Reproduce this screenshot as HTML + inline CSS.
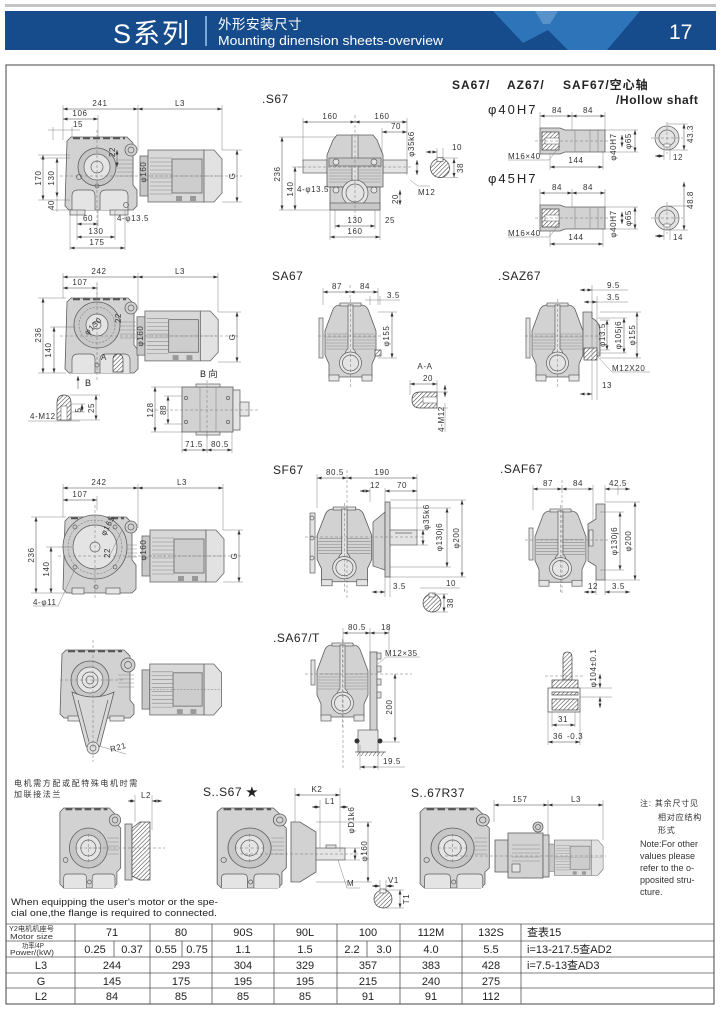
<!DOCTYPE html>
<html><head><meta charset="utf-8">
<style>
html,body{margin:0;padding:0;background:#fff;}
svg{display:block}
text{font-family:"Liberation Sans","Noto Sans CJK SC",sans-serif;}
.t{font-size:8px;fill:#333;letter-spacing:.6px}
.tc{text-anchor:middle}
.lb{font-size:12px;fill:#222;letter-spacing:.5px}
.tb{font-size:11px;fill:#222;text-anchor:middle}
.dm{stroke:#444;stroke-width:.5;fill:none;marker-start:url(#a);marker-end:url(#a)}
.ex{stroke:#666;stroke-width:.4;fill:none}
.cl{stroke:#777;stroke-width:.5;stroke-dasharray:3 2;fill:none}
.b{fill:#d2d2d2;stroke:#5e5e5e;stroke-width:.8}
.l{fill:#e4e4e4;stroke:#5e5e5e;stroke-width:.7}
.k{fill:none;stroke:#5e5e5e;stroke-width:.7}
.r{stroke:#8a8a8a;stroke-width:.6;fill:none}
.h{fill:url(#h);stroke:#444;stroke-width:.7}
.tl{stroke:#555;stroke-width:.8}
</style></head>
<body>
<svg width="721" height="1011" viewBox="0 0 721 1011" xmlns="http://www.w3.org/2000/svg">
<defs>
<marker id="a" viewBox="0 0 6 4" refX="6" refY="2" markerWidth="5" markerHeight="3" orient="auto-start-reverse" markerUnits="userSpaceOnUse"><path d="M0 0L6 2L0 4Z" fill="#333"/></marker>
<pattern id="h" width="3" height="3" patternUnits="userSpaceOnUse" patternTransform="rotate(45)"><rect width="3" height="3" fill="#fff"/><line x1="0" y1="0" x2="0" y2="3" stroke="#444" stroke-width="1.1"/></pattern>
<g id="mot">
<rect x="0" y="6" width="8" height="40" fill="#c8c8c8" stroke="#666" stroke-width=".8"/>
<rect x="8" y="0" width="56" height="52" fill="#d8d8d8" stroke="#666" stroke-width=".8"/>
<path d="M10 8H32M10 12H32M10 16H32M10 20H32M10 24H32M10 28H32M10 32H32M10 36H32M10 40H32M10 44H32" stroke="#888" stroke-width=".6"/>
<rect x="32" y="9" width="30" height="34" fill="#cdcdcd" stroke="#666" stroke-width=".8"/>
<path d="M64 0H74L82 9V43L74 52H64Z" fill="#e2e2e2" stroke="#666" stroke-width=".8"/>
<rect x="36" y="46" width="6" height="5" fill="#999"/><rect x="50" y="46" width="6" height="5" fill="#999"/>
<line x1="8" y1="26" x2="82" y2="26" stroke="#777" stroke-width=".5" stroke-dasharray="2 1.5"/>
</g>
<g id="gf">
<path class="b" d="M9 9 Q11 2 17 2 H38 Q44 2 46 9 L53 28 V52 L49 61 V74 H6 V61 L2 52 V28 Z"/>
<rect class="l" x="17" y="0" width="21" height="3"/>
<path class="r" d="M4 31H51M3 34H52M3 37H52M3 40H52M3 43H52M3 46H52"/>
<path class="l" d="M25 2 V46 Q22 48 22 52 H33 Q33 48 30 46 V2Z"/>
<circle class="l" cx="27.5" cy="60" r="11"/>
<circle class="k" cx="27.5" cy="60" r="8"/>
<rect class="l" x="6" y="72" width="10" height="6"/>
<rect class="l" x="39" y="72" width="10" height="6"/>
<path class="cl" d="M27.5 -4V84"/>
</g>
<g id="gs">
<path class="b" d="M2 4 L6 0 H54 L60 6 V14 L66 20 V60 L62 64 V76 L58 80 H6 L2 76 Z"/>
<path d="M8 1.2H52" stroke="#555" stroke-width="2.2" stroke-dasharray="7 3"/>
<circle class="b" cx="60" cy="12" r="6"/><circle class="k" cx="60" cy="12" r="3"/>
<circle fill="#c6c6c6" stroke="#5e5e5e" stroke-width=".8" cx="32" cy="40" r="20"/>
<circle class="l" cx="32" cy="40" r="13"/>
<circle class="l" cx="32" cy="40" r="8"/>
<path class="cl" d="M32 26V54M18 40H46"/>
<path class="r" d="M52 30H64M52 34H64M52 38H64M52 42H64M52 46H64"/>
<path class="l" d="M6 80V70Q6 66 10 66H26Q30 66 30 70V80M36 80V70Q36 66 40 66H56Q60 66 60 70V80"/>
<circle class="k" cx="33" cy="74" r="2"/>
<circle class="k" cx="8" cy="52" r="2.5"/>
</g>
</defs>

<!-- HEADER -->
<rect x="5" y="4" width="711" height="3" fill="#c4c4c4"/>
<rect x="5" y="11" width="711" height="39" fill="#164c8c"/>
<polygon points="493,11 640,11 607,50 568,50 548,30 523,43" fill="#2d74b8"/>
<polygon points="535,11 558,11 550,24 543,24" fill="#6a9fd2" opacity=".7"/>
<text x="113" y="43" fill="#fff" font-size="27" letter-spacing="2">S系列</text>
<line x1="206" y1="16" x2="206" y2="46" stroke="#7aa6d8" stroke-width="2"/>
<text x="218" y="29" fill="#fff" font-size="13.5" letter-spacing=".5">外形安装尺寸</text>
<text x="218" y="45" fill="#fff" font-size="13" textLength="225" lengthAdjust="spacingAndGlyphs">Mounting dinension sheets-overview</text>
<text x="669" y="39" fill="#fff" font-size="21">17</text>

<!-- FRAME -->
<rect x="6" y="65" width="708" height="939" fill="none" stroke="#444" stroke-width="1"/>

<!-- ===== A: top-left S67 foot ===== -->
<path class="ex" d="M63 105V140M138 105V150M222 105V150M98 115V140M53 127V140M72 127V140"/>
<line class="dm" x1="63" y1="109" x2="138" y2="109"/><text class="t tc" x="100" y="106">241</text>
<line class="dm" x1="138" y1="109" x2="222" y2="109"/><text class="t tc" x="180" y="106">L3</text>
<line class="dm" x1="63" y1="119" x2="98" y2="119"/><text class="t tc" x="80" y="116">106</text>
<line class="ex" x1="48" y1="130" x2="80" y2="130"/><text class="t tc" x="78" y="127">15</text>
<path class="b" d="M67 141 L71 137 H127 L133 143 V185 L137 190 V206 L133 210 H69 L65 206 Z"/>
<path d="M73 138.3H125" stroke="#555" stroke-width="2" stroke-dasharray="7 3"/>
<circle class="b" cx="131" cy="150" r="6"/><circle class="k" cx="131" cy="150" r="3"/>
<path class="r" d="M117 160H134M117 164H134M117 168H134M117 172H134M117 176H134"/>
<circle fill="#c6c6c6" stroke="#5e5e5e" stroke-width=".8" cx="97" cy="167" r="19"/>
<circle class="l" cx="97" cy="167" r="13"/><circle class="l" cx="97" cy="167" r="6"/>
<path class="l" d="M72 210V196Q72 190 78 190H90Q95 190 95 196V210M100 210V196Q100 190 106 190H122Q128 190 128 196V210"/>
<circle class="k" cx="79" cy="177" r="2.5"/><circle class="k" cx="97" cy="186" r="2"/><circle class="k" cx="126" cy="205" r="2.5"/>
<rect class="l" x="70" y="210" width="15" height="5"/><rect class="l" x="110" y="210" width="18" height="5"/>
<use href="#mot" transform="translate(140,150)"/>
<path class="cl" d="M97 130V228M60 176H242"/>
<path class="ex" d="M38 155H70M38 200H70M52 210H70M40 158H70M222 150H242M222 202H242"/>
<line class="dm" x1="43" y1="155" x2="43" y2="200"/><text class="t tc" transform="translate(41,178) rotate(-90)">170</text>
<line class="dm" x1="57" y1="158" x2="57" y2="197"/><text class="t tc" transform="translate(54,178) rotate(-90)">130</text>
<line class="ex" x1="57" y1="197" x2="57" y2="212"/><text class="t tc" transform="translate(54,205) rotate(-90)">40</text>
<line class="dm" x1="237" y1="150" x2="237" y2="202"/><text class="t tc" transform="translate(235,176) rotate(-90)">G</text>
<text class="t tc" transform="translate(146,172) rotate(-90)">φ160</text>
<line class="dm" x1="117" y1="150" x2="117" y2="167"/><text class="t tc" transform="translate(115,152) rotate(-90)">22</text>
<path class="ex" d="M70 210V250M125 210V250M77 210V240M115 210V240M98 210V226"/>
<line class="dm" x1="77" y1="224" x2="98" y2="224"/><text class="t tc" x="88" y="221">60</text>
<text class="t" x="117" y="221">4-φ13.5</text>
<line class="dm" x1="77" y1="237" x2="115" y2="237"/><text class="t tc" x="96" y="234">130</text>
<line class="dm" x1="70" y1="248" x2="125" y2="248"/><text class="t tc" x="97" y="245">175</text>

<!-- ===== B: S67 front ===== -->
<text class="lb" x="262" y="103">.S67</text>
<path class="ex" d="M303 118V162M407 118V175M382 128V162M279 137H340M279 210H335M292 167H305"/>
<line class="dm" x1="303" y1="122" x2="355" y2="122"/><text class="t tc" x="330" y="119">160</text>
<line class="dm" x1="355" y1="122" x2="407" y2="122"/><text class="t tc" x="382" y="119">160</text>
<line class="dm" x1="382" y1="132" x2="407" y2="132"/><text class="t tc" x="396" y="129">70</text>
<rect class="l" x="303" y="160" width="24" height="13"/><rect class="l" x="383" y="160" width="24" height="13"/>
<path class="b" d="M333 140 L337 135 H373 L377 140 L383 155 V187 H327 V155 Z"/>
<path class="r" d="M329 170H381M329 173H381M329 176H381M329 179H381M329 182H381"/>
<rect class="l" x="352" y="135" width="6" height="48"/>
<rect fill="#c8c8c8" stroke="#5e5e5e" stroke-width=".7" x="329" y="158" width="52" height="8"/>
<circle class="l" cx="336" cy="162" r="3"/><circle class="l" cx="374" cy="162" r="3"/>
<rect class="b" x="330" y="187" width="50" height="23"/>
<circle class="l" cx="355" cy="193" r="13"/><circle class="k" cx="355" cy="193" r="9"/>
<circle class="l" cx="336" cy="190" r="3"/><circle class="l" cx="374" cy="190" r="3"/>
<rect fill="#c8c8c8" stroke="#5e5e5e" stroke-width=".7" x="330" y="203" width="50" height="7"/>
<path class="cl" d="M355 115V220M298 167H412"/>
<line class="dm" x1="282" y1="137" x2="282" y2="210"/><text class="t tc" transform="translate(280,174) rotate(-90)">236</text>
<line class="dm" x1="295" y1="167" x2="295" y2="210"/><text class="t tc" transform="translate(293,189) rotate(-90)">140</text>
<text class="t" x="297" y="192" font-size="7.5">4-φ13.5</text>
<line class="dm" x1="417" y1="160" x2="417" y2="175"/><text class="t tc" transform="translate(414,144) rotate(-90)">φ35k6</text>
<path class="ex" d="M410 180L418 186H430"/><text class="t" x="418" y="195">M12</text>
<line class="dm" x1="400" y1="190" x2="400" y2="205"/><text class="t tc" transform="translate(398,199) rotate(-90)">20</text>
<path class="ex" d="M335 210V229M375 210V229M330 210V240M380 210V240"/>
<line class="dm" x1="335" y1="226" x2="375" y2="226"/><text class="t tc" x="355" y="223">130</text>
<text class="t tc" x="390" y="223">25</text>
<line class="dm" x1="330" y1="237" x2="380" y2="237"/><text class="t tc" x="355" y="234">160</text>
<circle class="h" cx="440" cy="168" r="9.5"/><rect fill="#fff" stroke="#444" stroke-width=".6" x="437" y="157.5" width="6" height="4"/>
<path class="ex" d="M437 148V158M443 148V158M440 158H458M440 177.5H458"/>
<line class="dm" x1="426" y1="152" x2="437" y2="152"/><text class="t" x="452" y="150">10</text>
<line class="dm" x1="454" y1="158.5" x2="454" y2="177.5"/><text class="t tc" transform="translate(463,168) rotate(-90)">38</text>

<!-- ===== C: hollow shaft ===== -->
<text x="452" y="89" font-size="12" font-weight="bold" fill="#222" letter-spacing="1">SA67/</text>
<text x="507" y="89" font-size="12" font-weight="bold" fill="#222" letter-spacing="1">AZ67/</text>
<text x="563" y="89" font-size="12" font-weight="bold" fill="#222" letter-spacing="1">SAF67/空心轴</text>
<text x="616" y="104" font-size="12" font-weight="bold" fill="#222" letter-spacing=".6">/Hollow shaft</text>
<text x="488" y="114" font-size="13" fill="#222" letter-spacing="2">φ40H7</text>
<text x="488" y="183" font-size="13" fill="#222" letter-spacing="2">φ45H7</text>
<g id="hs">
<path class="ex" d="M540 112V128M572 112V130M605 112V130M605 130H638M605 152H638M550 152V170M603 152V170"/>
<line class="dm" x1="540" y1="116" x2="572" y2="116"/><text class="t tc" x="557" y="113">84</text>
<line class="dm" x1="572" y1="116" x2="605" y2="116"/><text class="t tc" x="588" y="113">84</text>
<path class="b" d="M540 128H560L565 130H605V152H565L560 154H540Z"/>
<rect class="h" x="542" y="132" width="17" height="18"/>
<rect fill="#fff" stroke="#555" stroke-width=".5" x="545" y="138" width="14" height="6"/>
<path class="r" d="M575 130V152M590 130V152M598 130V152"/>
<path class="cl" d="M535 141H612"/>
<line class="dm" x1="622" y1="135" x2="622" y2="147"/>
<line class="dm" x1="635" y1="130" x2="635" y2="152"/>
<text class="t tc" transform="translate(616,147) rotate(-90)">φ40H7</text>
<text class="t tc" transform="translate(631,141) rotate(-90)">φ65</text>
<path class="ex" d="M560 146L549 160H508"/>
<text class="t" x="508" y="159">M16×40</text>
<line class="dm" x1="550" y1="167" x2="603" y2="167"/><text class="t tc" x="576" y="163">144</text>
</g>
<use href="#hs" transform="translate(0,77)"/>
<circle class="l" cx="667" cy="138" r="12"/><circle class="k" cx="667" cy="138" r="8"/>
<path class="cl" d="M651 138H683M667 122V154"/>
<rect fill="#fff" stroke="#555" stroke-width=".5" x="664" y="144" width="6" height="3"/>
<path class="ex" d="M667 124H688M667 150H688M664 148V160M670 148V160"/>
<line class="dm" x1="684" y1="124" x2="684" y2="150"/><text class="t tc" transform="translate(693,134) rotate(-90)">43.3</text>
<line class="dm" x1="655" y1="156" x2="664" y2="156"/><text class="t" x="673" y="160">12</text>
<circle class="l" cx="667" cy="218" r="12"/><circle class="k" cx="667" cy="218" r="8"/>
<path class="cl" d="M651 218H683M667 202V234"/>
<rect fill="#fff" stroke="#555" stroke-width=".5" x="664" y="224" width="6" height="3"/>
<path class="ex" d="M667 206H688M667 230H688M664 228V240M670 228V240"/>
<line class="dm" x1="684" y1="182" x2="684" y2="230"/><text class="t tc" transform="translate(693,200) rotate(-90)">48.8</text>
<line class="dm" x1="655" y1="236" x2="664" y2="236"/><text class="t" x="673" y="240">14</text>

<!-- ===== D: row2 left SA67 side ===== -->
<path class="ex" d="M63 273V298M138 273V310M218 273V312M97 284V300"/>
<line class="dm" x1="63" y1="277" x2="138" y2="277"/><text class="t tc" x="99" y="274">242</text>
<line class="dm" x1="138" y1="277" x2="218" y2="277"/><text class="t tc" x="180" y="274">L3</text>
<line class="dm" x1="63" y1="288" x2="97" y2="288"/><text class="t tc" x="80" y="285">107</text>
<path class="b" d="M67 302 L71 298 H128 L134 304 V345 L138 350 V369 L134 373 H69 L65 369 Z"/>
<path d="M73 299.3H126" stroke="#555" stroke-width="2" stroke-dasharray="7 3"/>
<circle class="b" cx="131" cy="308" r="6"/><circle class="k" cx="131" cy="308" r="3"/>
<path class="r" d="M120 322H136M120 326H136M120 330H136M120 334H136M120 338H136"/>
<circle fill="#c8c8c8" stroke="#5e5e5e" stroke-width=".8" cx="97" cy="325" r="23"/>
<circle cx="97" cy="325" r="18" fill="none" stroke="#666" stroke-width=".5" stroke-dasharray="2 1.5"/>
<circle class="l" cx="97" cy="325" r="11"/><circle class="k" cx="97" cy="325" r="4"/>
<path class="l" d="M72 373V360Q72 354 78 354H90Q95 354 95 360V373M100 373V360Q100 354 106 354H124Q130 354 130 360V373"/>
<path class="h" d="M113 372V360Q113 354 118 354Q123 354 123 360V372Z"/>
<circle class="k" cx="97" cy="365" r="2"/>
<text class="t" x="101" y="360" font-size="6">A</text>
<text class="t tc" transform="translate(95,328) rotate(-45)">φ130</text>
<use href="#mot" transform="translate(137,311) scale(.99,.96)"/>
<path class="cl" d="M97 282V380M60 336H240"/>
<path class="ex" d="M38 298H66M38 373H66M50 327H75M218 312H241M218 362H241"/>
<line class="dm" x1="43" y1="298" x2="43" y2="373"/><text class="t tc" transform="translate(41,335) rotate(-90)">236</text>
<line class="dm" x1="54" y1="327" x2="54" y2="373"/><text class="t tc" transform="translate(51,350) rotate(-90)">140</text>
<line class="dm" x1="237" y1="312" x2="237" y2="362"/><text class="t tc" transform="translate(235,337) rotate(-90)">G</text>
<text class="t tc" transform="translate(121,318) rotate(-90)">22</text>
<text class="t tc" transform="translate(143,336) rotate(-90)">φ160</text>
<line class="dm" x1="78" y1="389" x2="78" y2="376" style="marker-start:none"/>
<text x="85" y="386" font-size="9" fill="#222">B</text>
<path class="h" d="M57 420V403Q57 395 64 395Q71 395 71 403V420Z"/>
<rect fill="#fff" stroke="#555" stroke-width=".5" x="61" y="406" width="6" height="14"/>
<path class="ex" d="M28 421H80M70 395H100M70 420H100M70 404H85M70 412H85"/>
<text class="t" x="30" y="419" font-size="7.5">4-M12</text>
<line class="dm" x1="82" y1="404" x2="82" y2="412"/><text class="t tc" transform="translate(81,410) rotate(-90)">5</text>
<line class="dm" x1="96" y1="395" x2="96" y2="420"/><text class="t tc" transform="translate(94,408) rotate(-90)">25</text>
<text x="200" y="377" font-size="9" fill="#222">B 向</text>
<rect class="b" x="182" y="387" width="51" height="45"/>
<rect class="l" x="196" y="384" width="24" height="3"/><rect class="l" x="196" y="432" width="24" height="3"/>
<path class="r" d="M200 387V432M216 387V432"/>
<path class="l" d="M233 390H240V430H233Z"/><rect class="l" x="240" y="402" width="9" height="14"/>
<circle class="k" cx="186" cy="398" r="1.6"/><circle class="k" cx="186" cy="422" r="1.6"/><circle class="k" cx="228" cy="398" r="1.6"/><circle class="k" cx="228" cy="422" r="1.6"/>
<path class="cl" d="M150 410H258M207 380V440"/>
<path class="ex" d="M151 387H182M151 432H182M164 396H182M164 424H182M182 432V453M207 432V453M232 432V453"/>
<line class="dm" x1="155" y1="387" x2="155" y2="432"/><text class="t tc" transform="translate(153,410) rotate(-90)">128</text>
<line class="dm" x1="168" y1="396" x2="168" y2="424"/><text class="t tc" transform="translate(166,410) rotate(-90)">88</text>
<line class="dm" x1="182" y1="450" x2="207" y2="450"/><text class="t tc" x="194" y="447">71.5</text>
<line class="dm" x1="207" y1="450" x2="232" y2="450"/><text class="t tc" x="220" y="447">80.5</text>

<!-- ===== E: SA67 / SAZ67 front ===== -->
<text class="lb" x="272" y="280">SA67</text>
<path class="ex" d="M323 288V305M378 288V305M378 312H397M378 358H397M370 296V305M380 296V305"/>
<line class="dm" x1="323" y1="292" x2="350" y2="292"/><text class="t tc" x="337" y="289">87</text>
<line class="dm" x1="350" y1="292" x2="378" y2="292"/><text class="t tc" x="365" y="289">84</text>
<line class="ex" x1="365" y1="300" x2="400" y2="300"/><text class="t" x="387" y="298">3.5</text>
<use href="#gf" transform="translate(323,303)"/>
<rect class="l" x="319" y="318" width="4" height="40"/>
<rect class="h" x="375" y="350" width="6" height="6"/>
<path class="cl" d="M318 336H382M350 285V300"/>
<line class="dm" x1="392" y1="312" x2="392" y2="358"/><text class="t tc" transform="translate(389,336) rotate(-90)">φ155</text>
<text class="t tc" x="425" y="369" font-size="7">A-A</text>
<path class="ex" d="M410 380V395M437 380V395"/>
<line class="dm" x1="410" y1="384" x2="437" y2="384"/><text class="t tc" x="428" y="381">20</text>
<path class="h" d="M412 400Q412 392 420 392H437V408H420Q412 408 412 400Z"/>
<rect fill="#fff" stroke="#555" stroke-width=".5" x="423" y="397" width="14" height="6"/>
<path class="ex" d="M437 392H448M437 408H448"/>
<line class="dm" x1="445" y1="385" x2="445" y2="397"/><line class="ex" x1="445" y1="403" x2="445" y2="432"/>
<text class="t tc" transform="translate(444,419) rotate(-90)">4-M12</text>

<text class="lb" x="498" y="280">.SAZ67</text>
<use href="#gf" transform="translate(530,303)"/>
<rect class="l" x="526" y="318" width="4" height="40"/>
<path class="b" d="M583 312H592V318Q600 322 600 332V356H583Z"/>
<rect class="h" x="584" y="348" width="13" height="12"/>
<path class="cl" d="M525 336H605"/>
<path class="ex" d="M592 285V400M597 296V400M600 312H641M600 358H641M600 320H610M600 350H610M598 318H627M598 353H627"/>
<line class="dm" x1="580" y1="290" x2="592" y2="290"/><line class="ex" x1="592" y1="290" x2="628" y2="290"/><text class="t" x="607" y="288">9.5</text>
<line class="dm" x1="584" y1="302" x2="597" y2="302"/><line class="ex" x1="597" y1="302" x2="628" y2="302"/><text class="t" x="607" y="300">3.5</text>
<line class="dm" x1="607" y1="320" x2="607" y2="350"/><text class="t tc" transform="translate(605,335) rotate(-90)">φ13.5</text>
<line class="dm" x1="624" y1="318" x2="624" y2="353"/><text class="t tc" transform="translate(621,335) rotate(-90)">φ105j6</text>
<line class="dm" x1="637" y1="312" x2="637" y2="358"/><text class="t tc" transform="translate(635,335) rotate(-90)">φ155</text>
<path class="ex" d="M597 356L612 372H650"/>
<text class="t" x="612" y="371" font-size="7.5">M12X20</text>
<line class="dm" x1="580" y1="394" x2="592" y2="394"/><text class="t" x="602" y="388" font-size="7">13</text>

<!-- ===== F: row3 left SF side ===== -->
<path class="ex" d="M63 484V517M138 484V528M223 484V530M97 496V510"/>
<line class="dm" x1="63" y1="488" x2="138" y2="488"/><text class="t tc" x="99" y="485">242</text>
<line class="dm" x1="138" y1="488" x2="223" y2="488"/><text class="t tc" x="182" y="485">L3</text>
<line class="dm" x1="63" y1="500" x2="97" y2="500"/><text class="t tc" x="80" y="497">107</text>
<path class="b" d="M65 521 L69 517 H126 L132 523 V560 L136 565 V589 L132 593 H67 L63 589 Z"/>
<path d="M71 518.3H124" stroke="#555" stroke-width="2" stroke-dasharray="7 3"/>
<circle class="b" cx="131" cy="527" r="6"/><circle class="k" cx="131" cy="527" r="3"/>
<path class="r" d="M122 545H137M122 549H137M122 553H137M122 557H137"/>
<circle fill="#cdcdcd" stroke="#5e5e5e" stroke-width=".8" cx="95" cy="547" r="32"/>
<circle cx="95" cy="547" r="27" fill="none" stroke="#666" stroke-width=".5" stroke-dasharray="2 1.5"/>
<circle class="l" cx="95" cy="547" r="22"/>
<circle class="l" cx="95" cy="547" r="5"/>
<circle class="k" cx="75" cy="527" r="2"/><circle class="k" cx="115" cy="527" r="2"/><circle class="k" cx="75" cy="567" r="2"/><circle class="k" cx="115" cy="567" r="2"/>
<rect class="l" x="72" y="588" width="12" height="6"/><rect class="l" x="106" y="588" width="14" height="6"/>
<circle class="k" cx="96" cy="587" r="2"/>
<use href="#mot" transform="translate(142,530)"/>
<path class="cl" d="M95 505V598M58 556H242"/>
<path class="ex" d="M31 517H66M31 593H66M46 547H72M223 530H243M223 582H243"/>
<line class="dm" x1="36" y1="517" x2="36" y2="593"/><text class="t tc" transform="translate(34,555) rotate(-90)">236</text>
<line class="dm" x1="51" y1="547" x2="51" y2="593"/><text class="t tc" transform="translate(49,569) rotate(-90)">140</text>
<line class="dm" x1="239" y1="530" x2="239" y2="582"/><text class="t tc" transform="translate(237,556) rotate(-90)">G</text>
<path class="ex" d="M33 606H58L75 569M110 555L122 530"/>
<text class="t" x="33" y="605" font-size="7.5">4-φ11</text>
<text class="t tc" transform="translate(110,527) rotate(-62)">φ165</text>
<text class="t tc" transform="translate(110,553) rotate(-90)">22</text>
<text class="t tc" transform="translate(146,550) rotate(-90)">φ160</text>

<!-- ===== G: row4 left SA67/T side ===== -->
<path class="b" d="M62 654 L66 650 H124 L130 656 V700 L134 705 V714 L130 718 H64 L60 714 Z"/>
<path d="M68 651.3H122" stroke="#555" stroke-width="2" stroke-dasharray="7 3"/>
<circle class="b" cx="128" cy="665" r="7"/><circle class="k" cx="128" cy="665" r="3.5"/>
<path class="r" d="M118 675H134M118 679H134M118 683H134M118 687H134"/>
<circle fill="#c8c8c8" stroke="#5e5e5e" stroke-width=".8" cx="90" cy="680" r="19"/>
<circle class="l" cx="90" cy="680" r="13"/><circle class="l" cx="90" cy="680" r="8"/><circle class="k" cx="90" cy="680" r="4"/>
<rect class="l" x="68" y="716" width="14" height="5"/><rect class="l" x="110" y="716" width="14" height="5"/>
<path fill="#d8d8d8" stroke="#5e5e5e" stroke-width=".8" d="M72 692 L86 746 Q93 756 100 746 L114 692 Q93 702 72 692Z"/>
<path class="k" d="M78 700L89 742M108 700L97 742"/>
<circle class="l" cx="93" cy="748" r="6"/><circle class="k" cx="93" cy="748" r="3"/>
<path class="cl" d="M93 640V762M60 680H125"/>
<path class="ex" d="M99 746L126 754"/>
<text class="t" transform="translate(111,752) rotate(-15)">R21</text>
<use href="#mot" transform="translate(142,664) scale(.97,.98)"/>

<!-- ===== H: SF67 ===== -->
<text class="lb" x="273" y="474">SF67</text>
<path class="ex" d="M317 474V508M417 474V530M370 488V502M385 488V502"/>
<line class="dm" x1="317" y1="478" x2="347" y2="478"/><text class="t tc" x="335" y="475">80.5</text>
<line class="dm" x1="347" y1="478" x2="417" y2="478"/><text class="t tc" x="382" y="475">190</text>
<line class="dm" x1="360" y1="491" x2="370" y2="491"/><text class="t tc" x="375" y="488">12</text>
<line class="dm" x1="385" y1="491" x2="417" y2="491"/><text class="t tc" x="402" y="488">70</text>
<use href="#gf" transform="translate(315,507) scale(1.07,1.01)"/>
<rect class="l" x="310" y="513" width="5" height="60"/>
<circle class="k" cx="312" cy="518" r="2"/><circle class="k" cx="312" cy="538" r="2"/><circle class="k" cx="312" cy="558" r="2"/>
<path class="b" d="M373 522L385 512V570L373 566Z"/>
<rect class="b" x="385" y="502" width="5" height="75"/>
<rect class="l" x="390" y="530" width="27" height="15"/><line class="k" x1="395" y1="533" x2="412" y2="533"/>
<path class="cl" d="M305 537H425M347 470V600"/>
<path class="ex" d="M390 500H466M390 577H466M390 508H451M390 567H451M417 530H428M417 545H428M385 577V597M390 577V597"/>
<line class="dm" x1="423" y1="530" x2="423" y2="545"/><text class="t tc" transform="translate(429,517) rotate(-90)">φ35k6</text>
<line class="dm" x1="447" y1="508" x2="447" y2="567"/><text class="t tc" transform="translate(442,537) rotate(-90)">φ130j6</text>
<line class="dm" x1="462" y1="500" x2="462" y2="577"/><text class="t tc" transform="translate(459,538) rotate(-90)">φ200</text>
<line class="dm" x1="372" y1="592" x2="385" y2="592"/><text class="t" x="393" y="589">3.5</text>
<line class="ex" x1="420" y1="588" x2="460" y2="588"/><text class="t" x="446" y="586">10</text>
<circle class="h" cx="432" cy="603" r="9"/><rect fill="#fff" stroke="#444" stroke-width=".6" x="429" y="593" width="6" height="4"/>
<path class="ex" d="M432 594H448M432 612H448"/>
<line class="dm" x1="444" y1="594" x2="444" y2="612"/><text class="t tc" transform="translate(453,603) rotate(-90)">38</text>

<!-- ===== I: SAF67 ===== -->
<text class="lb" x="500" y="473">.SAF67</text>
<path class="ex" d="M533 485V510M593 485V520M605 485V502M618 485V495"/>
<line class="dm" x1="533" y1="489" x2="562" y2="489"/><text class="t tc" x="548" y="486">87</text>
<line class="dm" x1="562" y1="489" x2="593" y2="489"/><text class="t tc" x="578" y="486">84</text>
<line class="dm" x1="605" y1="489" x2="630" y2="489"/><text class="t tc" x="618" y="486">42.5</text>
<use href="#gf" transform="translate(533,509) scale(1,.99)"/>
<rect class="l" x="529" y="528" width="4" height="32"/>
<path class="b" d="M588 524L596 519V504H605V580H596V566L588 561Z"/>
<rect class="l" x="589" y="530" width="4" height="16"/>
<path class="cl" d="M525 540H610M562 480V595"/>
<path class="ex" d="M605 502H640M605 580H640M600 512H624M600 570H624M596 580V595M605 580V595"/>
<line class="dm" x1="620" y1="512" x2="620" y2="570"/><text class="t tc" transform="translate(617,541) rotate(-90)">φ130j6</text>
<line class="dm" x1="635" y1="502" x2="635" y2="580"/><text class="t tc" transform="translate(631,541) rotate(-90)">φ200</text>
<line class="dm" x1="584" y1="592" x2="596" y2="592"/><text class="t" x="588" y="589">12</text>
<line class="dm" x1="605" y1="592" x2="630" y2="592"/><text class="t" x="612" y="589">3.5</text>

<!-- ===== J: SA67/T ===== -->
<text class="lb" x="273" y="642">.SA67/T</text>
<path class="ex" d="M343 628V645M370 628V652M389 628V652"/>
<line class="dm" x1="343" y1="633" x2="370" y2="633"/><text class="t tc" x="357" y="630">80.5</text>
<line class="dm" x1="370" y1="633" x2="389" y2="633"/><text class="t tc" x="386" y="630">18</text>
<use href="#gf" transform="translate(315,643)"/>
<rect class="l" x="311" y="660" width="4" height="25"/>
<rect class="b" x="370" y="652" width="7" height="100"/>
<rect class="l" x="377" y="653" width="4" height="6"/><rect class="l" x="377" y="666" width="4" height="6"/><rect class="l" x="377" y="679" width="4" height="6"/><rect class="l" x="377" y="692" width="4" height="6"/>
<rect class="l" x="358" y="730" width="20" height="22"/>
<circle fill="#333" cx="357" cy="741" r="2.5"/><circle fill="#333" cx="380" cy="741" r="2.5"/>
<line class="tl" x1="355" y1="752" x2="386" y2="752"/>
<path d="M357 756L360 752M361 756L364 752M365 756L368 752M369 756L372 752M373 756L376 752M377 756L380 752M381 756L384 752" stroke="#555" stroke-width=".6"/>
<path class="cl" d="M305 674H412M343 640V770"/>
<path class="ex" d="M378 664L386 657H420M380 742H400"/>
<text class="t" x="385" y="656" font-size="7.5">M12×35</text>
<line class="dm" x1="395" y1="674" x2="395" y2="742"/><text class="t tc" transform="translate(392,707) rotate(-90)">200</text>
<path class="ex" d="M360 745V770M378 752V770"/>
<line class="dm" x1="360" y1="767" x2="378" y2="767"/><line class="ex" x1="378" y1="767" x2="405" y2="767"/>
<text class="t" x="383" y="764">19.5</text>
<path class="h" d="M563 680V657Q563 652 567.5 652Q572 652 572 657V680Z"/>
<rect class="h" x="552" y="680" width="26" height="8"/>
<rect fill="#fff" stroke="#444" stroke-width=".7" x="548" y="688" width="32" height="24"/>
<rect class="h" x="552" y="692" width="26" height="3"/>
<rect class="h" x="552" y="699" width="26" height="11"/>
<path class="cl" d="M545 676H585"/>
<path class="ex" d="M580 688H612M580 697H612M548 712V745M580 712V745M552 712V727M575 712V727"/>
<line class="dm" x1="600" y1="674" x2="600" y2="688"/><line class="dm" x1="600" y1="708" x2="600" y2="697"/>
<text class="t tc" transform="translate(596,668) rotate(-90)" font-size="7">φ104±0.1</text>
<line class="dm" x1="552" y1="725" x2="575" y2="725"/><text class="t tc" x="563" y="722">31</text>
<line class="dm" x1="548" y1="742" x2="580" y2="742"/><text class="t" x="553" y="739">36</text><text class="t" x="567" y="739" font-size="5.5">-0.3</text>

<!-- ===== K: row 5 ===== -->
<text x="14" y="786" font-size="8" fill="#333" letter-spacing="1.6">电机需方配或配特殊电机时需</text>
<text x="14" y="797" font-size="8" fill="#333" letter-spacing="1.6">加联接法兰</text>
<path class="ex" d="M135 795V822M152 795V830"/>
<line class="dm" x1="128" y1="801" x2="135" y2="801"/><line class="dm" x1="162" y1="801" x2="152" y2="801"/>
<text class="t" x="141" y="798">L2</text>
<use href="#gs" transform="translate(58,808) scale(.95,1)"/>
<rect class="b" x="125" y="824" width="7" height="56"/>
<path class="h" d="M132 828L140 822H150V880H140L132 876Z"/>
<path class="cl" d="M88 848H165"/>

<text class="lb" x="203" y="796">S..S67 ★</text>
<use href="#gs" transform="translate(215,808) scale(1.08,1)"/>
<path class="b" d="M291 822H300L316 832V872L300 882H291Z"/>
<rect class="l" x="316" y="848" width="29" height="12"/><rect class="l" x="326" y="845" width="10" height="3"/>
<path class="cl" d="M240 854H365"/>
<path class="ex" d="M295 788V822M340 788V852M320 800V848M316 822H372M316 882H372M340 848H360M345 860H360"/>
<line class="dm" x1="295" y1="795" x2="340" y2="795"/><text class="t tc" x="317" y="792">K2</text>
<line class="dm" x1="312" y1="807" x2="320" y2="807"/><line class="dm" x1="348" y1="807" x2="340" y2="807"/>
<text class="t" x="325" y="804">L1</text>
<line class="dm" x1="355" y1="848" x2="355" y2="860"/><text class="t tc" transform="translate(354,820) rotate(-90)">φD1k6</text>
<line class="dm" x1="368" y1="822" x2="368" y2="882"/><text class="t tc" transform="translate(367,851) rotate(-90)">φ160</text>
<path class="ex" d="M338 860L347 888H360"/><text class="t" x="347" y="886">M</text>
<path class="ex" d="M380 880V890M386 880V890"/>
<line class="dm" x1="372" y1="886" x2="380" y2="886"/><line class="dm" x1="394" y1="886" x2="386" y2="886"/>
<text class="t" x="388" y="883">V1</text>
<circle class="h" cx="383" cy="899" r="9"/><rect fill="#fff" stroke="#444" stroke-width=".6" x="380" y="889" width="6" height="4"/>
<path class="ex" d="M383 890H404M383 908H404"/>
<line class="dm" x1="400" y1="890" x2="400" y2="908"/><text class="t tc" transform="translate(409,899) rotate(-90)">T1</text>

<text class="lb" x="411" y="797">S..67R37</text>
<use href="#gs" transform="translate(418,808) scale(1.08,1)"/>
<rect class="b" x="495" y="840" width="13" height="32"/>
<rect class="b" x="508" y="833" width="35" height="45"/>
<path class="r" d="M512 845H540M512 849H540M512 853H540M512 857H540M512 861H540"/>
<rect class="l" x="512" y="864" width="8" height="8"/>
<circle class="b" cx="538" cy="827" r="5"/><circle class="k" cx="538" cy="827" r="2.5"/>
<rect class="b" x="543" y="835" width="6" height="42"/>
<use href="#mot" transform="translate(549,840) scale(.66,.68)"/>
<path class="cl" d="M445 856H606"/>
<path class="ex" d="M494 800V822M548 800V835M603 800V840"/>
<line class="dm" x1="494" y1="805" x2="548" y2="805"/><text class="t tc" x="520" y="802">157</text>
<line class="dm" x1="548" y1="805" x2="603" y2="805"/><text class="t tc" x="576" y="802">L3</text>

<text x="640" y="806" font-size="8" fill="#333" letter-spacing=".8">注: 其余尺寸见</text>
<text x="658" y="820" font-size="8" fill="#333" letter-spacing=".8">相对应结构</text>
<text x="658" y="833" font-size="8" fill="#333" letter-spacing=".8">形式</text>
<text x="640" y="847" font-size="9" fill="#333">Note:For other</text>
<text x="640" y="859" font-size="9" fill="#333">values please</text>
<text x="640" y="871" font-size="9" fill="#333">refer to the o-</text>
<text x="640" y="883" font-size="9" fill="#333">pposited stru-</text>
<text x="640" y="895" font-size="9" fill="#333">cture.</text>

<text x="11" y="905" font-size="9.5" fill="#222" textLength="207" lengthAdjust="spacingAndGlyphs">When equipping the user's motor or the spe-</text>
<text x="11" y="916" font-size="9.5" fill="#222" textLength="206" lengthAdjust="spacingAndGlyphs">cial one,the flange is required to connected.</text>

<!-- ===== TABLE ===== -->
<path class="tl" d="M6 924H714M6 941H714M6 957H714M6 973H714M6 988H714"/>
<path class="tl" d="M75 924V1004M150 924V1004M212 924V1004M274 924V1004M337 924V1004M400 924V1004M462 924V1004M521 924V1004M114 941V957M182 941V957M367 941V957"/>
<text x="9" y="931" font-size="7" fill="#333" textLength="45" lengthAdjust="spacingAndGlyphs">Y2电机机座号</text>
<text x="10" y="939" font-size="7" fill="#333" textLength="43" lengthAdjust="spacingAndGlyphs">Motor size</text>
<text x="22" y="948" font-size="7" fill="#333" textLength="22" lengthAdjust="spacingAndGlyphs">功率/4P</text>
<text x="10" y="955" font-size="7" fill="#333" textLength="44" lengthAdjust="spacingAndGlyphs">Power/(kW)</text>
<text class="tb" x="112" y="936">71</text><text class="tb" x="181" y="936">80</text><text class="tb" x="243" y="936">90S</text><text class="tb" x="305" y="936">90L</text><text class="tb" x="368" y="936">100</text><text class="tb" x="431" y="936">112M</text><text class="tb" x="491" y="936">132S</text>
<text x="527" y="936" font-size="11" fill="#222">查表15</text>
<text class="tb" x="95" y="953">0.25</text><text class="tb" x="132" y="953">0.37</text><text class="tb" x="166" y="953">0.55</text><text class="tb" x="197" y="953">0.75</text><text class="tb" x="243" y="953">1.1</text><text class="tb" x="305" y="953">1.5</text><text class="tb" x="352" y="953">2.2</text><text class="tb" x="384" y="953">3.0</text><text class="tb" x="431" y="953">4.0</text><text class="tb" x="491" y="953">5.5</text>
<text x="527" y="953" font-size="11" fill="#222">i=13-217.5查AD2</text>
<text class="tb" x="41" y="969">L3</text><text class="tb" x="112" y="969">244</text><text class="tb" x="181" y="969">293</text><text class="tb" x="243" y="969">304</text><text class="tb" x="305" y="969">329</text><text class="tb" x="368" y="969">357</text><text class="tb" x="431" y="969">383</text><text class="tb" x="491" y="969">428</text>
<text x="527" y="969" font-size="11" fill="#222">i=7.5-13查AD3</text>
<text class="tb" x="41" y="985">G</text><text class="tb" x="112" y="985">145</text><text class="tb" x="181" y="985">175</text><text class="tb" x="243" y="985">195</text><text class="tb" x="305" y="985">195</text><text class="tb" x="368" y="985">215</text><text class="tb" x="431" y="985">240</text><text class="tb" x="491" y="985">275</text>
<text class="tb" x="41" y="1000">L2</text><text class="tb" x="112" y="1000">84</text><text class="tb" x="181" y="1000">85</text><text class="tb" x="243" y="1000">85</text><text class="tb" x="305" y="1000">85</text><text class="tb" x="368" y="1000">91</text><text class="tb" x="431" y="1000">91</text><text class="tb" x="491" y="1000">112</text>
</svg>
</body></html>
